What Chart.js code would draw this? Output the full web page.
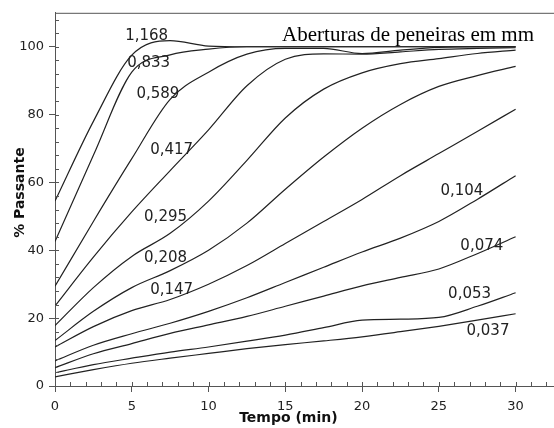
<!DOCTYPE html>
<html>
<head>
<meta charset="utf-8">
<script src="https://cdn.jsdelivr.net/npm/chart.js@4.4.1/dist/chart.umd.min.js"></script>
<style>
  html, body { margin: 0; padding: 0; background: #fff; }
  #sieveChart { display: block; }
</style>
</head>
<body>
<canvas id="sieveChart" width="554" height="428"></canvas>
<script>
// tempo (min) em que cada leitura foi feita
const times = [0, 2.5, 5, 7.5, 10, 12.5, 15, 17.5, 20, 22.5, 25, 27.5, 30];

// % passante por abertura de peneira (mm)
const s1168 = [54.5, 78, 97.5, 101.8, 100.2, 100, 100, 100, 100, 100, 100, 100, 100];
const s0833 = [42.6, 68, 92.5, 97.6, 99.3, 100, 100, 100, 100, 100, 100, 100, 100];
const s0589 = [29.4, 48.5, 67, 84.5, 92.5, 97.8, 99.5, 99.5, 98, 99, 99.8, 100, 100];
const s0417 = [23.6, 38, 51.3, 63.5, 75.5, 88.5, 96.3, 97.9, 97.8, 98.5, 99.2, 99.5, 99.7];
const s0295 = [17.8, 29, 38.2, 45, 54.5, 66.5, 79, 87.5, 92.3, 95, 96.5, 98, 99];
const s0208 = [13.4, 22, 29, 34, 40, 48, 58, 67.5, 76, 83, 88.3, 91.5, 94.2];
const s0147 = [11.5, 17.5, 22.2, 25.5, 30, 35.5, 42, 48.5, 55, 62, 68.5, 75, 81.6];
const s0104 = [7.4, 12, 15.4, 18.5, 22, 26, 30.5, 35, 39.5, 43.6, 48.5, 55, 62];
const s0074 = [5.4, 9.5, 12.5, 15.5, 18, 20.5, 23.5, 26.5, 29.5, 32, 34.5, 39, 44];
const s0053 = [3.9, 6.3, 8.2, 10, 11.5, 13.2, 15, 17.2, 19.4, 19.7, 20.2, 23.5, 27.5];
const s0037 = [2.7, 4.8, 6.7, 8.2, 9.6, 11, 12.2, 13.3, 14.5, 16, 17.6, 19.4, 21.3];

const sieveNames = ["1,168", "0,833", "0,589", "0,417", "0,295", "0,208", "0,147", "0,104", "0,074", "0,053", "0,037"];
const seriesValues = [s1168, s0833, s0589, s0417, s0295, s0208, s0147, s0104, s0074, s0053, s0037];

const xTicks = [0, 5, 10, 15, 20, 25, 30];
const yTicks = [0, 20, 40, 60, 80, 100];

// where each sieve name sits (tempo, % passante)
const labelSpots = [
  [5.97, 103.2], [6.1, 95.3], [6.7, 86], [7.6, 69.5], [7.2, 49.9], [7.2, 37.8],
  [7.6, 28.4], [26.5, 57.4], [27.8, 41.1], [27, 27], [28.2, 16.3],
];

const extras = {
  id: "extras",
  afterDraw(chart) {
    const { ctx, chartArea: area, scales } = chart;
    const x = scales.x;
    const y = scales.y;
    ctx.save();

    // top frame + minor ticks
    ctx.strokeStyle = "#555";
    ctx.lineWidth = 1;
    ctx.beginPath();
    ctx.moveTo(area.left, area.top + 0.5);
    ctx.lineTo(area.right, area.top + 0.5);
    for (let t = 0; t <= 32; t++) {
      const px = Math.round(x.getPixelForValue(t)) + 0.5;
      ctx.moveTo(px, area.bottom);
      ctx.lineTo(px, area.bottom - 4);
    }
    for (let v = 0; v <= 108; v += 4) {
      const py = Math.round(y.getPixelForValue(v)) + 0.5;
      ctx.moveTo(area.left, py);
      ctx.lineTo(area.left + 4, py);
    }
    ctx.stroke();

    // sieve labels
    ctx.fillStyle = "#222";
    ctx.font = "15px 'DejaVu Sans'";
    ctx.textAlign = "center";
    ctx.textBaseline = "middle";
    sieveNames.forEach((name, i) => {
      const [t, v] = labelSpots[i];
      ctx.fillText(name, x.getPixelForValue(t), y.getPixelForValue(v));
    });

    ctx.fillStyle = "#000";
    ctx.font = "21px 'Liberation Serif'";
    ctx.textAlign = "left";
    ctx.textBaseline = "alphabetic";
    ctx.fillText("Aberturas de peneiras em mm", x.getPixelForValue(14.79), y.getPixelForValue(101.8));

    // axis titles
    ctx.fillStyle = "#111";
    ctx.font = "bold 14px 'DejaVu Sans'";
    ctx.textAlign = "center";
    ctx.textBaseline = "middle";
    ctx.fillText("Tempo (min)", x.getPixelForValue(15.2), chart.height - 10);
    ctx.translate(area.left - 35, y.getPixelForValue(57));
    ctx.rotate(-Math.PI / 2);
    ctx.fillText("% Passante", 0, 0);
    ctx.restore();
  },
};

document.addEventListener("DOMContentLoaded", () => {
  const ctx = document.getElementById("sieveChart").getContext("2d");

  const datasets = seriesValues.map((values, i) => ({
    label: sieveNames[i],
    data: values.map((v, j) => ({ x: times[j], y: v })),
    borderColor: "#222",
    borderWidth: 1.2,
    pointRadius: 0,
    fill: false,
    cubicInterpolationMode: "monotone",
  }));

  new Chart(ctx, {
    type: "line",
    data: { datasets },
    options: {
      responsive: false,
      animation: false,
      layout: { padding: { top: 10, right: 0, left: 0, bottom: 0 } },
      plugins: {
        legend: { display: false },
        tooltip: { enabled: false },
      },
      scales: {
        x: {
          type: "linear",
          min: 0,
          max: 32.5,
          afterBuildTicks: (scale) => {
            scale.ticks = xTicks.map((v) => ({ value: v }));
          },
          afterFit: (scale) => {
            scale.height = 42;
          },
          ticks: {
            color: "#222",
            font: { family: "DejaVu Sans", size: 13 },
            padding: 7,
            maxRotation: 0,
          },
          grid: { drawOnChartArea: false, tickLength: 6, color: "#555" },
          border: { color: "#555" },
        },
        y: {
          min: 0,
          max: 110,
          afterBuildTicks: (scale) => {
            scale.ticks = yTicks.map((v) => ({ value: v }));
          },
          afterFit: (scale) => {
            scale.width = 55;
          },
          ticks: {
            color: "#222",
            font: { family: "DejaVu Sans", size: 13 },
            padding: 5,
          },
          grid: { drawOnChartArea: false, tickLength: 6, color: "#555" },
          border: { color: "#555" },
        },
      },
    },
    plugins: [extras],
  });
});
</script>
</body>
</html>
